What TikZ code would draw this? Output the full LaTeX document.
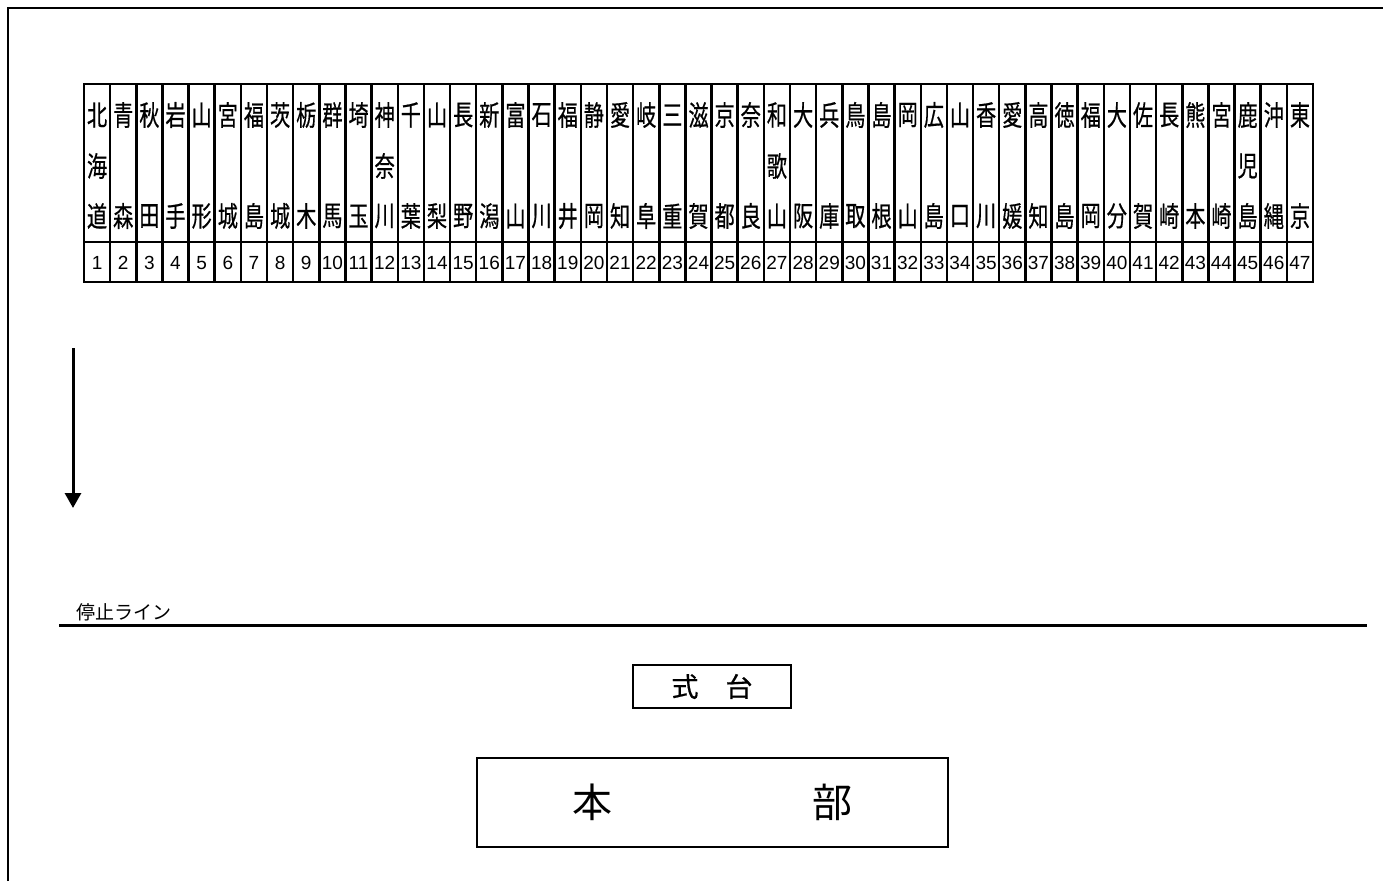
\documentclass[tikz,border=0pt]{standalone}
\usepackage{fontspec}
\usepackage{graphicx}
\usetikzlibrary{arrows.meta}
\newfontfamily\jpfont{Noto Sans CJK JP}
\newfontfamily\jpbfont[FakeBold=0.6]{Noto Sans CJK JP}
\newfontfamily\numfont{Liberation Sans}
\newcommand{\kj}[1]{\scalebox{0.72}[1]{#1}}
\tikzset{
  frameline/.style={line width=2.5pt},
  gridline/.style={line width=2.5pt},
  kan/.style={font=\jpbfont\fontsize{28}{28}\selectfont, inner sep=0pt, anchor=center},
  num/.style={font=\numfont\fontsize{19}{19}\selectfont, inner sep=0pt, anchor=center},
  boxed/.style={draw, line width=2.5pt, inner sep=0pt},
}
\begin{document}
\begin{tikzpicture}[x=1pt,y=-1pt]
\useasboundingbox (0,0) rectangle (1383,881);
% frame
\coordinate (fbl) at (8,881);
\coordinate (ftl) at (8,8);
\coordinate (ftr) at (1383,8);
\draw[frameline] (fbl) -- (ftl) -- (ftr);
% table
\pgfmathsetmacro{\cw}{1229/47}
\coordinate (tl) at (84,84);
\coordinate (br) at (1313,282);
\draw[gridline] (tl) rectangle (br);
\coordinate (sl) at (84,242);
\coordinate (sr) at (1313,242);
\draw[gridline] (sl) -- (sr);
\foreach \k in {1,...,46}{
  \coordinate (ct\k) at ({84+\k*\cw},84);
  \coordinate (cb\k) at ({84+\k*\cw},282);
  \draw[gridline] (ct\k) -- (cb\k);
}
\foreach \i/\a/\b/\c in {1/北/海/道,2/青//森,3/秋//田,4/岩//手,5/山//形,6/宮//城,7/福//島,8/茨//城,9/栃//木,10/群//馬,11/埼//玉,12/神/奈/川,13/千//葉,14/山//梨,15/長//野,16/新//潟,17/富//山,18/石//川,19/福//井,20/静//岡,21/愛//知,22/岐//阜,23/三//重,24/滋//賀,25/京//都,26/奈//良,27/和/歌/山,28/大//阪,29/兵//庫,30/鳥//取,31/島//根,32/岡//山,33/広//島,34/山//口,35/香//川,36/愛//媛,37/高//知,38/徳//島,39/福//岡,40/大//分,41/佐//賀,42/長//崎,43/熊//本,44/宮//崎,45/鹿/児/島,46/沖//縄,47/東//京}{
  \pgfmathsetmacro{\xc}{84+(\i-0.5)*\cw}
  \node[kan] (pa\i) at (\xc,115) {\kj{\a}};
  \node[kan] (pb\i) at (\xc,166) {\kj{\b}};
  \node[kan] (pc\i) at (\xc,216) {\kj{\c}};
  \node[num] (pn\i) at (\xc,263) {\i};
}
% arrow
\coordinate (as) at (73,348);
\coordinate (ae) at (73,508);
\draw[line width=3pt,-{Triangle[length=15pt,width=16pt]}] (as) -- (ae);
% stop line
\node[font=\jpfont\fontsize{19}{19}\selectfont, inner sep=0pt] (stoplbl) at (124,612) {停止ライン};
\coordinate (stl) at (59,625.5);
\coordinate (str) at (1367,625.5);
\draw[line width=2.5pt] (stl) -- (str);
% boxes
\node[boxed, minimum width=158pt, minimum height=43pt, font=\jpbfont\fontsize{27}{27}\selectfont] (shikidai) at (712,686.5) {式　台};
\node[boxed, minimum width=471pt, minimum height=89pt, font=\jpfont\fontsize{40}{40}\selectfont] (honbu) at (712.5,802.5) {本\hspace{200pt}部};
\end{tikzpicture}
\end{document}
